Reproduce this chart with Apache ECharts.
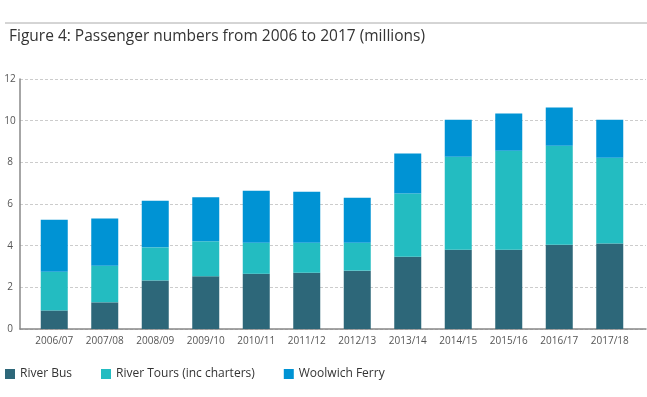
<!DOCTYPE html>
<html>
<head>
<meta charset="utf-8">
<script src="https://cdn.jsdelivr.net/npm/echarts@6/dist/echarts.min.js"></script>
<style>
  html, body { margin: 0; padding: 0; background: #fff; }
  #main { width: 647px; height: 397px; }
</style>
</head>
<body>
<div id="main"></div>
<script>
// years on the x axis
var years = ['2006/07', '2007/08', '2008/09', '2009/10', '2010/11', '2011/12',
             '2012/13', '2013/14', '2014/15', '2015/16', '2016/17', '2017/18'];
// passengers, millions (stacked)
var riverBus = [0.89, 1.28, 2.33, 2.53, 2.65, 2.70, 2.80, 3.47, 3.81, 3.81, 4.05, 4.10];
var riverTours = [1.86, 1.76, 1.59, 1.68, 1.49, 1.44, 1.34, 3.03, 4.46, 4.75, 4.75, 4.12];
var woolwichFerry = [2.50, 2.26, 2.24, 2.11, 2.50, 2.45, 2.16, 1.92, 1.78, 1.78, 1.83, 1.83];
var yMax = 12;
var yStep = 2;

var font = '"Open Sans", Lato, sans-serif';
var axisColor = '#888';

var chart = echarts.init(document.getElementById('main'));

chart.setOption({
    animation: false,
    textStyle: { fontFamily: font },
    color: ['#2d6779', '#23bcc1', '#0093d4'],
    title: {
        text: 'Figure 4: Passenger numbers from 2006 to 2017 (millions)',
        left: 4,
        top: 24,
        textStyle: { fontSize: 15.5, fontWeight: 500, color: '#333', fontFamily: font }
    },
    graphic: [{
        type: 'line',
        shape: { x1: 5, y1: 23, x2: 647, y2: 23 },
        style: { stroke: '#aaa', lineWidth: 1 }
    }],
    legend: {
        left: 5,
        top: 368,
        padding: 0,
        itemWidth: 10,
        itemHeight: 10,
        itemGap: 29,
        icon: 'rect',
        textStyle: { fontSize: 12, color: '#333', fontFamily: font },
        data: ['River Bus', 'River Tours (inc charters)', 'Woolwich Ferry']
    },
    // grid 0: frame (axis lines + gridlines), grid 1: bars
    grid: [
        { left: 20, right: 1, top: 79, bottom: 68 },
        { left: 29, right: 12, top: 79, bottom: 68 }
    ],
    xAxis: [{
        type: 'value',
        gridIndex: 0,
        min: 0,
        max: 1,
        splitLine: { show: false },
        axisLine: { show: true, onZero: false, lineStyle: { color: axisColor, width: 1.5 } },
        axisTick: { show: false },
        axisLabel: { show: false }
    }, {
        type: 'category',
        gridIndex: 1,
        data: years,
        axisLine: { show: false },
        axisTick: { show: false },
        axisLabel: { margin: 7, fontSize: 10, color: '#555', interval: 0 }
    }],
    yAxis: [{
        type: 'value',
        gridIndex: 0,
        min: 0,
        max: yMax,
        interval: yStep,
        axisLine: { show: true, onZero: false, lineStyle: { color: axisColor, width: 1.5 } },
        axisTick: { show: false },
        axisLabel: { align: 'center', margin: 10, fontSize: 10, color: '#555' },
        splitLine: { show: true, lineStyle: { color: '#ccc', type: [3, 2] } }
    }, {
        type: 'value',
        gridIndex: 1,
        min: 0,
        max: yMax,
        interval: yStep,
        axisLine: { show: false },
        axisTick: { show: false },
        axisLabel: { show: false },
        splitLine: { show: false }
    }],
    series: [
        { name: 'River Bus', type: 'bar', stack: 'p', barWidth: 27, xAxisIndex: 1, yAxisIndex: 1, data: riverBus },
        { name: 'River Tours (inc charters)', type: 'bar', stack: 'p', barWidth: 27, xAxisIndex: 1, yAxisIndex: 1, data: riverTours },
        { name: 'Woolwich Ferry', type: 'bar', stack: 'p', barWidth: 27, xAxisIndex: 1, yAxisIndex: 1, data: woolwichFerry }
    ]
});
</script>
</body>
</html>
